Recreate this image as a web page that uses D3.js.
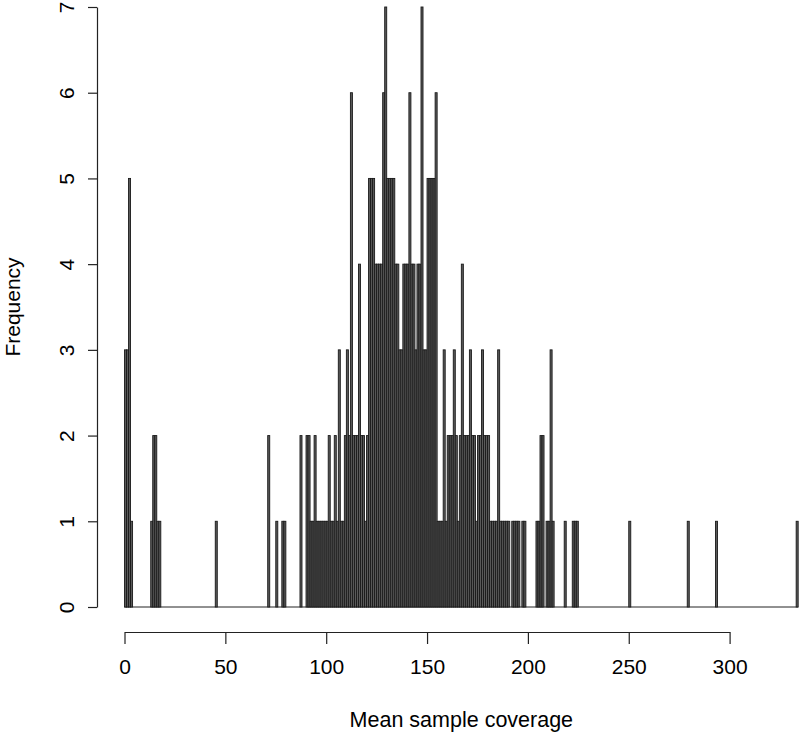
<!DOCTYPE html>
<html>
<head>
<meta charset="utf-8">
<script src="https://cdn.jsdelivr.net/npm/d3@7"></script>
<style>
  html, body { margin: 0; padding: 0; background: #fff; }
  svg { display: block; }
  text { font-family: "Liberation Sans", Arial, Helvetica, sans-serif; fill: #000; }
</style>
</head>
<body>
<div id="chart"></div>
<script>
// ---- data (histogram of mean sample coverage, bin width 1) ----
const breaksMin = 0;
const breaksMax = 334;
const binWidth = 1;
const binStarts = [0,1,2,3,13,14,15,16,17,45,71,75,78,79,
  87,90,91,92,93,94,95,96,97,98,99,100,101,102,103,104,105,106,107,108,109,110,
  111,112,113,114,115,116,117,118,119,120,121,122,123,124,125,126,127,128,129,130,
  131,132,133,134,135,136,137,138,139,140,141,142,143,144,145,146,147,148,149,150,
  151,152,153,154,155,156,157,158,159,160,161,162,163,164,165,166,167,168,169,170,
  171,172,173,174,175,176,177,178,179,180,181,182,183,184,185,186,187,188,189,190,
  192,193,194,195,197,198,204,205,206,207,209,210,211,212,218,222,223,224,250,279,293,333];
const binCounts = [3,3,5,1,1,2,2,1,1,1,2,1,1,1,
  2,2,2,1,1,2,1,1,1,1,1,1,2,1,1,2,1,3,1,1,2,3,
  2,6,2,2,2,4,2,2,1,2,5,5,5,4,4,4,4,6,7,5,
  5,5,5,4,4,3,3,4,4,4,6,4,4,3,4,4,7,3,3,5,
  5,5,5,6,1,1,1,3,1,2,2,2,3,2,1,2,4,2,2,2,
  3,2,2,1,2,2,3,2,2,2,1,1,1,1,3,1,1,1,1,1,
  1,1,1,1,1,1,1,1,2,2,1,1,3,1,1,1,1,1,1,1,1,1];
const xTicks = [0, 50, 100, 150, 200, 250, 300];
const yTicks = [0, 1, 2, 3, 4, 5, 6, 7];
const xLabel = "Mean sample coverage";
const yLabel = "Frequency";

// ---- layout ----
const W = 800, H = 736;
const svg = d3.select("#chart").append("svg").attr("width", W).attr("height", H);

const x = d3.scaleLinear().domain([0, 300]).range([124.5, 729.6]);
const y = d3.scaleLinear().domain([0, 7]).range([607, 7]);

const bins = binStarts.map((s, i) => ({ x0: s, x1: s + binWidth, n: binCounts[i] }));

// baseline (zero-height bins)
svg.append("line")
  .attr("x1", x(breaksMin)).attr("x2", x(breaksMax))
  .attr("y1", y(0)).attr("y2", y(0))
  .attr("stroke", "#222").attr("stroke-width", 1);

svg.append("g").selectAll("rect").data(bins).join("rect")
  .attr("x", d => x(d.x0))
  .attr("width", d => x(d.x1) - x(d.x0))
  .attr("y", d => y(d.n))
  .attr("height", d => y(0) - y(d.n))
  .attr("fill", "#5a5a5a")
  .attr("stroke", "#1a1a1a")
  .attr("stroke-width", 0.9);

// x axis (R style, detached)
const xAxis = d3.axisBottom(x).tickValues(xTicks).tickSize(12).tickSizeOuter(0).tickPadding(15);
const gx = svg.append("g").attr("transform", "translate(0,632)").call(xAxis);
gx.select(".domain").attr("stroke", "#222").attr("stroke-width", 1.2);
gx.selectAll(".tick line").attr("stroke", "#222").attr("stroke-width", 1.2);
gx.selectAll(".tick text").style("font-size", "21px");

// y axis
const yAxis = d3.axisLeft(y).tickValues(yTicks).tickSize(9).tickSizeOuter(0).tickFormat(d3.format("d"));
const gy = svg.append("g").attr("transform", "translate(97,0)").call(yAxis);
gy.select(".domain").attr("stroke", "#222").attr("stroke-width", 1.2);
gy.selectAll(".tick line").attr("stroke", "#222").attr("stroke-width", 1.2);
gy.selectAll(".tick text")
  .attr("x", null).attr("dy", null)
  .attr("text-anchor", "middle")
  .attr("transform", "translate(-23.5,0) rotate(-90)")
  .style("font-size", "21px");

// axis titles (centered on the plot region, R style)
svg.append("text")
  .attr("x", (x(breaksMin) + x(breaksMax)) / 2).attr("y", 727)
  .attr("text-anchor", "middle")
  .style("font-size", "21.5px")
  .text(xLabel);

svg.append("text")
  .attr("transform", "translate(19.5,307) rotate(-90)")
  .attr("text-anchor", "middle")
  .style("font-size", "21px")
  .text(yLabel);
</script>
</body>
</html>
